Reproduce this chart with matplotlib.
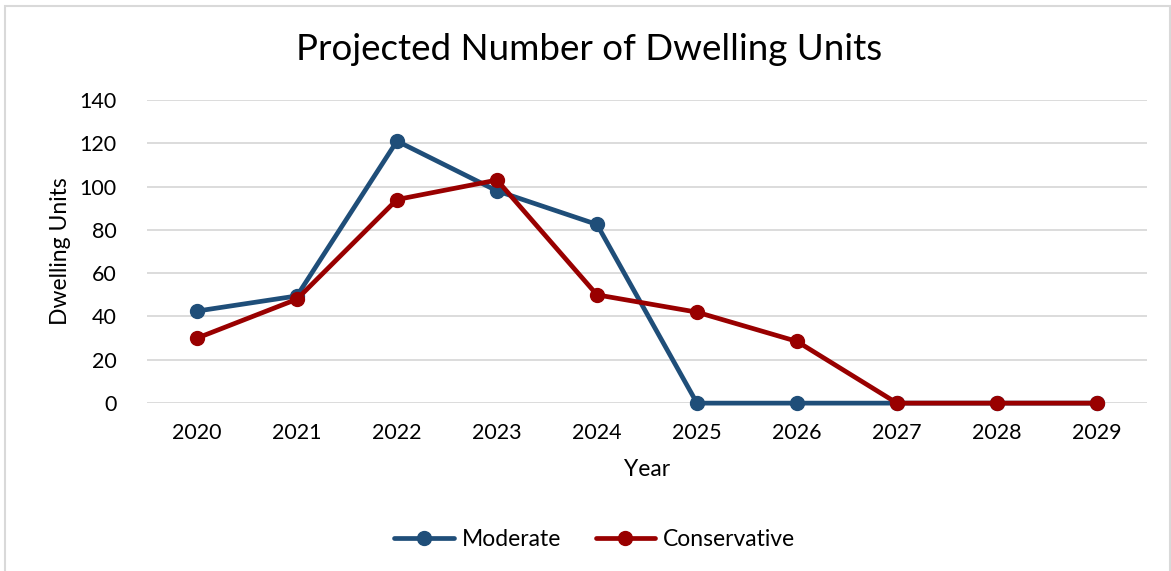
import matplotlib
matplotlib.use("Agg")
import matplotlib.pyplot as plt
from matplotlib.patches import Rectangle

years = ["2020", "2021", "2022", "2023", "2024", "2025", "2026", "2027", "2028", "2029"]
moderate = [42.5, 49.5, 121, 98, 82.5, 0, 0, 0, 0, 0]
conservative = [30, 48, 94, 103, 50, 42, 28.5, 0, 0, 0]
y_ticks = [0, 20, 40, 60, 80, 100, 120, 140]

plt.rcParams["font.family"] = ["Lato", "DejaVu Sans"]

fig = plt.figure(figsize=(11.71, 5.71), dpi=100)
ax = fig.add_axes([0.1255, 0.294, 0.854, 0.531])

x = list(range(len(years)))
ax.plot(x, moderate, color="#1F4E79", linewidth=3.4, marker="o", markersize=10,
        label="Moderate", solid_capstyle="round", zorder=3)
ax.plot(x, conservative, color="#990000", linewidth=3.4, marker="o", markersize=10,
        label="Conservative", solid_capstyle="round", zorder=4)

ax.set_xlim(-0.5, len(years) - 0.5)
ax.set_ylim(0, 140)
ax.set_yticks(y_ticks)
ax.set_xticks(x)
ax.set_xticklabels(years)
ax.grid(axis="y", color="#d9d9d9", linewidth=1.3)
ax.set_axisbelow(True)
for s in ax.spines.values():
    s.set_visible(False)
ax.tick_params(length=0, labelsize=15.5, colors="#000000", pad=14)
ax.tick_params(axis="y", pad=22)
for line in ax.lines:
    line.set_clip_on(False)

ax.set_xlabel("Year", fontsize=16.5, labelpad=12)
ax.set_ylabel("Dwelling Units", fontsize=16.5, labelpad=6)
fig.text(0.503, 0.913, "Projected Number of Dwelling Units", ha="center", va="center", fontsize=26.5)

fig.legend(loc="center", bbox_to_anchor=(0.508, 0.055), ncol=2, frameon=False,
           fontsize=16.5, handlelength=2.6, columnspacing=1.5, handletextpad=0.35)

fig.patches.append(Rectangle((0.004, -0.01), 0.995, 1.0, transform=fig.transFigure,
                             fill=False, edgecolor="#d9d9d9", linewidth=1.5))

fig.savefig("out.png", dpi=100)
